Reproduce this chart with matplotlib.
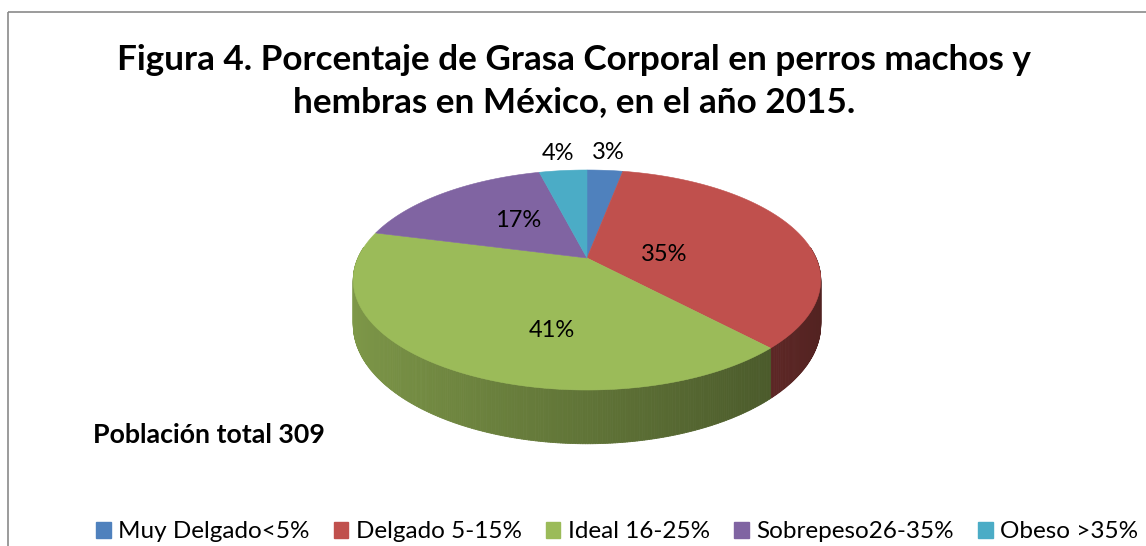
import numpy as np
import matplotlib.pyplot as plt
from matplotlib.patches import Polygon, Patch, Rectangle
from matplotlib.collections import PolyCollection
from matplotlib.colors import to_rgb

plt.rcParams['font.family'] = ['Lato', 'DejaVu Sans']

# data
categories = ['Muy Delgado<5%', 'Delgado 5-15%', 'Ideal 16-25%', 'Sobrepeso26-35%', 'Obeso >35%']
values = [3, 35, 41, 17, 4]
colors = ['#4F81BD', '#C0504D', '#9BBB59', '#8064A2', '#4BACC6']

title_lines = ['Figura 4. Porcentaje de Grasa Corporal en perros machos y',
               'hembras en México, en el año 2015.']
note = 'Población total 309'

# pie layout (pixel space, perspective tilted disc)
cx, cy = 587, 258
rx, ry = 229, 105.6
persp = 0.2
depth = 43
label_frac = [1.25, 0.34, 0.62, 0.5, 1.25]
label_shift = [0, 10, -18, 5, 0]  # degrees


def project(theta, r=1.0, drop=0.0):
    u = r * np.sin(theta)
    v = r * np.cos(theta)
    s = 1 / (1 + persp * v)
    return cx + rx * u * s, cy - ry * v * s + drop * s


fig = plt.figure(figsize=(11.46, 5.46), dpi=100)
ax = fig.add_axes([0, 0, 1, 1])
ax.set_xlim(0, 1146)
ax.set_ylim(546, 0)
ax.axis('off')

# chart border
ax.add_patch(Rectangle((8, 12), 1300, 700, fill=False, edgecolor='#8a8a8a', lw=1.2))

total = sum(values)
bounds = np.concatenate([[0], np.cumsum(values)]) / total * 2 * np.pi

# side of the disc, drawn as thin shaded strips back to front
strips, strip_cols, strip_v = [], [], []
for i, col in enumerate(colors):
    t0, t1 = bounds[i], bounds[i + 1]
    n = max(2, int(np.degrees(t1 - t0) * 2))
    ts = np.linspace(t0, t1, n + 1)
    base = np.array(to_rgb(col))
    for a, b in zip(ts[:-1], ts[1:]):
        m = (a + b) / 2
        if np.cos(m) > 0.1:
            continue
        xa, ya = project(a)
        xb, yb = project(b)
        xa2, ya2 = project(a, drop=depth)
        xb2, yb2 = project(b, drop=depth)
        strips.append([(xa, ya), (xb, yb), (xb2, yb2), (xa2, ya2)])
        shade = 0.62 - 0.2 * np.sin(m)
        strip_cols.append(base * shade)
        strip_v.append(np.cos(m))
order = np.argsort(strip_v)[::-1]
pc = PolyCollection([strips[k] for k in order], facecolors=[strip_cols[k] for k in order],
                    edgecolors=[strip_cols[k] for k in order], linewidths=0.6)
ax.add_collection(pc)

# top face
for i, col in enumerate(colors):
    ts = np.linspace(bounds[i], bounds[i + 1], 200)
    xs, ys = project(ts)
    pts = [(cx, cy)] + list(zip(xs, ys))
    ax.add_patch(Polygon(pts, closed=True, facecolor=col, edgecolor=col, lw=0.4))

# percentage labels
for i, v in enumerate(values):
    mid = (bounds[i] + bounds[i + 1]) / 2 + np.radians(label_shift[i])
    lx, ly = project(mid, r=label_frac[i])
    ax.text(lx, ly, f'{v}%', ha='center', va='center', fontsize=17, color='#000000')

ax.text(574, 70, title_lines[0], ha='center', va='baseline', fontsize=25.3, fontweight='bold')
ax.text(574, 112, title_lines[1], ha='center', va='baseline', fontsize=25.3, fontweight='bold')
ax.text(93, 435, note, ha='left', va='center', fontsize=19.3, fontweight='bold')

handles = [Patch(facecolor=c, edgecolor=c) for c in colors]
ax.legend(handles, categories, ncol=5, loc='center', bbox_to_anchor=(617 / 1146, 1 - 532 / 546),
          bbox_transform=fig.transFigure, frameon=False, fontsize=17.5, handlelength=0.6,
          handleheight=0.6, handletextpad=0.3, columnspacing=1.0, borderpad=0)

fig.savefig('out.png', dpi=100, facecolor='white')
